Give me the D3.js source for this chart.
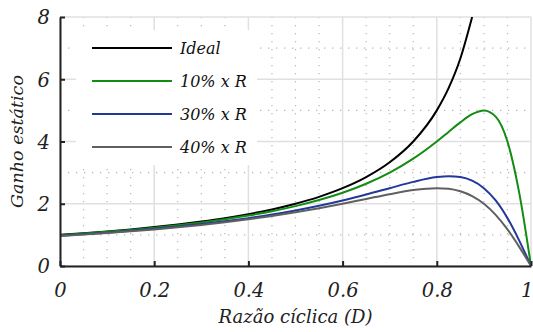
<!DOCTYPE html>
<html>
<head>
<meta charset="utf-8">
<script src="https://cdn.jsdelivr.net/npm/d3@7"></script>
<style>
  body { margin: 0; background: #fff; }
  svg text { font-family: "DejaVu Serif", "Liberation Serif", "Noto Serif", serif !important; font-style: italic; }
</style>
</head>
<body>
<script>
// duty cycle samples
var duty = [0, 0.05, 0.1, 0.15, 0.2, 0.25, 0.3, 0.35, 0.4, 0.45, 0.5, 0.55, 0.6, 0.65, 0.7, 0.75, 0.8, 0.825, 0.85, 0.875, 0.9, 0.925, 0.95, 0.975, 1]

var ideal = [1, 1.053, 1.111, 1.176, 1.25, 1.333, 1.429, 1.538, 1.667, 1.818, 2, 2.222, 2.5, 2.857, 3.333, 4, 5, 5.714, 6.667, 8, null, null, null, null, null]
var loss10 = [0.99, 1.041, 1.098, 1.16, 1.231, 1.31, 1.4, 1.503, 1.622, 1.76, 1.923, 2.118, 2.353, 2.642, 3.0, 3.448, 4.0, 4.308, 4.615, 4.878, 5.0, 4.8, 4.0, 2.35, 0]
var loss30 = [0.971, 1.019, 1.071, 1.13, 1.194, 1.266, 1.346, 1.436, 1.538, 1.654, 1.786, 1.935, 2.105, 2.295, 2.5, 2.703, 2.857, 2.887, 2.857, 2.74, 2.5, 2.105, 1.538, 0.816, 0]
var loss40 = [0.962, 1.008, 1.059, 1.115, 1.176, 1.245, 1.321, 1.405, 1.5, 1.606, 1.724, 1.856, 2.0, 2.154, 2.308, 2.439, 2.5, 2.483, 2.4, 2.246, 2.0, 1.644, 1.176, 0.615, 0]

var seriesNames = ['Ideal', '10% x R', '30% x R', '40% x R']
var seriesColors = ['#000000', '#128c12', '#22389a', '#606060']

var xTicks = [0, 0.2, 0.4, 0.6, 0.8, 1]
var xTickLabels = ['0', '0.2', '0.4', '0.6', '0.8', '1']
var yTicks = [0, 2, 4, 6, 8]
var xMinor = [0.05, 0.1, 0.15, 0.25, 0.3, 0.35, 0.45, 0.5, 0.55, 0.65, 0.7, 0.75, 0.85, 0.9, 0.95]
var yMinor = [1, 3, 5, 7]

var width = 533
var height = 332
var margin = {top: 17, right: 2, bottom: 66, left: 60}
var w = width - margin.left - margin.right
var h = height - margin.top - margin.bottom

var svg = d3.select('body')
    .append('svg')
    .attr('width', width)
    .attr('height', height)

var g = svg.append('g')
    .attr('transform', 'translate(' + margin.left + ',' + margin.top + ')')

var x = d3.scaleLinear().domain([0, 1]).range([0, w])
var y = d3.scaleLinear().domain([0, 8]).range([h, 0])

// minor dotted grid
g.selectAll('.minorx')
    .data(xMinor)
    .enter().append('line')
    .attr('x1', d => x(d)).attr('x2', d => x(d))
    .attr('y1', 0).attr('y2', h)
    .attr('stroke', '#b8b8b8')
    .attr('stroke-width', 1.2)
    .attr('stroke-dasharray', '1.3,6.7')

g.selectAll('.minory')
    .data(yMinor)
    .enter().append('line')
    .attr('x1', 0).attr('x2', w)
    .attr('y1', d => y(d)).attr('y2', d => y(d))
    .attr('stroke', '#b8b8b8')
    .attr('stroke-width', 1.2)
    .attr('stroke-dasharray', '1.3,6.7')

// major grid
g.selectAll('.majorx')
    .data(xTicks)
    .enter().append('line')
    .attr('x1', d => x(d)).attr('x2', d => x(d))
    .attr('y1', 0).attr('y2', h)
    .attr('stroke', '#e0e0e0')
    .attr('stroke-width', 1.5)

g.selectAll('.majory')
    .data(yTicks)
    .enter().append('line')
    .attr('x1', 0).attr('x2', w)
    .attr('y1', d => y(d)).attr('y2', d => y(d))
    .attr('stroke', '#e0e0e0')
    .attr('stroke-width', 1.5)

// legend background hides the grid
var legX = 16, legY = 13, legW = 181, legH = 135
g.append('rect')
    .attr('x', legX).attr('y', legY)
    .attr('width', legW).attr('height', legH)
    .attr('fill', '#fff')

// curves
g.append('clipPath').attr('id', 'clip')
    .append('rect').attr('x', 0).attr('y', 0).attr('width', w).attr('height', h)

var series = [ideal, loss10, loss30, loss40]

var line = d3.line()
    .defined(d => d[1] != null)
    .x(d => x(d[0]))
    .y(d => y(d[1]))
    .curve(d3.curveMonotoneX)

series.forEach(function (vals, i) {
    var pts = duty.map((d, k) => [d, vals[k]])
    g.append('path')
        .datum(pts)
        .attr('clip-path', 'url(#clip)')
        .attr('fill', 'none')
        .attr('stroke', seriesColors[i])
        .attr('stroke-width', 2)
        .attr('d', line)
})

// axes
var xAxisGroup = g.append('g')
    .attr('transform', 'translate(0,' + h + ')')
var xAxis = d3.axisBottom(x)
    .tickValues(xTicks)
    .tickFormat((d, i) => xTickLabels[i])
    .tickSizeInner(-5)
    .tickSizeOuter(0)
    .tickPadding(17)
xAxis(xAxisGroup)

var yAxisGroup = g.append('g')
var yAxis = d3.axisLeft(y)
    .tickValues(yTicks)
    .tickFormat(d3.format('d'))
    .tickSizeInner(-5)
    .tickSizeOuter(0)
    .tickPadding(10)
yAxis(yAxisGroup)

;[xAxisGroup, yAxisGroup].forEach(function (ag) {
    ag.attr('font-family', null)
    ag.select('.domain').attr('stroke', '#222').attr('stroke-width', 2)
    ag.selectAll('.tick line').attr('stroke', '#222').attr('stroke-width', 2)
    ag.selectAll('.tick text')
        .attr('fill', '#222')
        .style('font-size', '19.5px')
})
yAxisGroup.selectAll('.tick text').attr('dy', '0.35em')
// keep the "1" inside the window
xAxisGroup.selectAll('.tick text').filter(d => d === 1)
    .attr('text-anchor', 'end').attr('x', 2)

// legend entries
seriesNames.forEach(function (name, i) {
    var ly = legY + 18 + i * 33
    g.append('line')
        .attr('x1', 32).attr('x2', 112)
        .attr('y1', ly).attr('y2', ly)
        .attr('stroke', seriesColors[i])
        .attr('stroke-width', 2)
    g.append('text')
        .attr('x', 120).attr('y', ly)
        .attr('dy', '0.35em')
        .attr('font-size', 16)
        .attr('fill', '#111')
        .text(name)
})

// axis titles
svg.append('text')
    .attr('x', margin.left + w / 2)
    .attr('y', 323)
    .attr('text-anchor', 'middle')
    .attr('font-size', 18)
    .attr('fill', '#222')
    .text('Razão cíclica (D)')

svg.append('text')
    .attr('transform', 'translate(23,' + (margin.top + h / 2) + ') rotate(-90)')
    .attr('text-anchor', 'middle')
    .attr('font-size', 17.5)
    .attr('fill', '#222')
    .text('Ganho estático')
</script>
</body>
</html>
